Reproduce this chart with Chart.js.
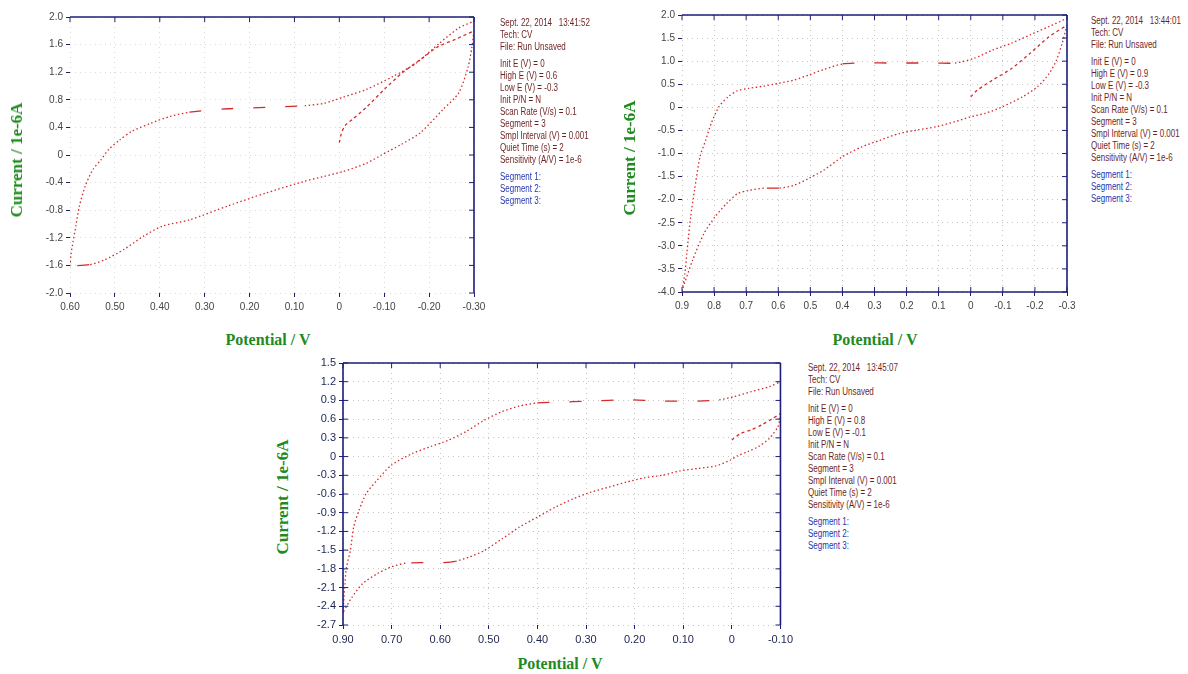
<!DOCTYPE html>
<html>
<head>
<meta charset="utf-8">
<title>CV scans</title>
<script src="https://cdn.jsdelivr.net/npm/chart.js@4.4.1/dist/chart.umd.min.js"></script>
<style>
  body { margin: 0; background: #fff; }
  #page { position: relative; width: 1188px; height: 674px; overflow: hidden; }
  #page canvas { position: absolute; }
  .ytitle, .xtitle { position: absolute; font-family: 'Liberation Serif', 'Times New Roman', serif; font-weight: bold; color: #1f8a1f; white-space: nowrap; }
  .ytitle { font-size: 17px; transform: translate(-50%, -50%) rotate(-90deg); }
  .xtitle { font-size: 16px; transform: translate(-50%, -50%); }
  .info { position: absolute; font: 10px 'Liberation Sans', Arial, sans-serif; color: #6e1f1f; line-height: 12px; white-space: pre; transform: scaleX(0.8); transform-origin: left top; }
  .info .gap { height: 5px; }
  .info .seg { color: #2536b0; }
</style>
</head>
<body>
<div id="page">
  <canvas id="cv1" width="465" height="314" style="left:25px;top:7px"></canvas>
  <canvas id="cv2" width="446" height="315" style="left:637px;top:5px"></canvas>
  <canvas id="cv3" width="499" height="300" style="left:298px;top:353px"></canvas>

  <div class="ytitle" style="left:17px;top:160px">Current / 1e-6A</div>
  <div class="ytitle" style="left:630px;top:158px">Current / 1e-6A</div>
  <div class="ytitle" style="left:283px;top:497px">Current / 1e-6A</div>
  <div class="xtitle" style="left:268px;top:340px">Potential / V</div>
  <div class="xtitle" style="left:875px;top:340px">Potential / V</div>
  <div class="xtitle" style="left:560px;top:664px">Potential / V</div>

  <div class="info" id="info1" style="left:500px;top:17px"></div>
  <div class="info" id="info2" style="left:1091px;top:15px"></div>
  <div class="info" id="info3" style="left:808px;top:362px"></div>
</div>

<script>
// ---- scan 1 (13:41:52) ----
const x1Ticks = [0.6, 0.5, 0.4, 0.3, 0.2, 0.1, 0, -0.1, -0.2, -0.3];
const x1Labels = ['0.60', '0.50', '0.40', '0.30', '0.20', '0.10', '0', '-0.10', '-0.20', '-0.30'];
const y1Ticks = [2.0, 1.6, 1.2, 0.8, 0.4, 0, -0.4, -0.8, -1.2, -1.6, -2.0];
const y1Labels = ['2.0', '1.6', '1.2', '0.8', '0.4', '0', '-0.4', '-0.8', '-1.2', '-1.6', '-2.0'];
const s1aX = [0, -0.004, -0.012, -0.03, -0.06, -0.10, -0.14, -0.18, -0.22, -0.26, -0.30];
const s1aY = [0.18, 0.30, 0.42, 0.52, 0.69, 0.95, 1.19, 1.38, 1.57, 1.68, 1.80];
const s1bX = [-0.30, -0.295, -0.287, -0.266, -0.231, -0.18, -0.137, -0.094, -0.06, -0.008, 0.034, 0.077, 0.163, 0.249, 0.334, 0.394, 0.437, 0.48, 0.523, 0.557, 0.60];
const s1bY = [1.80, 1.55, 1.28, 0.90, 0.66, 0.32, 0.15, 0.0, -0.12, -0.24, -0.31, -0.38, -0.55, -0.74, -0.94, -1.03, -1.18, -1.37, -1.52, -1.59, -1.61];
const s1cX = [0.60, 0.598, 0.593, 0.587, 0.579, 0.566, 0.549, 0.531, 0.514, 0.489, 0.463, 0.42, 0.377, 0.334, 0.249, 0.163, 0.077, 0.034, -0.008, -0.06, -0.12, -0.171, -0.223, -0.266, -0.30];
const s1cY = [-1.61, -1.45, -1.25, -1.03, -0.74, -0.45, -0.21, -0.07, 0.08, 0.22, 0.34, 0.46, 0.56, 0.62, 0.67, 0.69, 0.715, 0.75, 0.836, 0.95, 1.14, 1.33, 1.62, 1.84, 1.94];

// ---- scan 2 (13:44:01) ----
const x2Ticks = [0.9, 0.8, 0.7, 0.6, 0.5, 0.4, 0.3, 0.2, 0.1, 0, -0.1, -0.2, -0.3];
const x2Labels = ['0.9', '0.8', '0.7', '0.6', '0.5', '0.4', '0.3', '0.2', '0.1', '0', '-0.1', '-0.2', '-0.3'];
const y2Ticks = [2.0, 1.5, 1.0, 0.5, 0, -0.5, -1.0, -1.5, -2.0, -2.5, -3.0, -3.5, -4.0];
const y2Labels = ['2.0', '1.5', '1.0', '0.5', '0', '-0.5', '-1.0', '-1.5', '-2.0', '-2.5', '-3.0', '-3.5', '-4.0'];
const s2aX = [0, -0.02, -0.068, -0.127, -0.185, -0.244, -0.30];
const s2aY = [0.23, 0.37, 0.59, 0.84, 1.17, 1.53, 1.78];
const s2bX = [-0.30, -0.285, -0.267, -0.244, -0.209, -0.162, -0.098, -0.045, 0.0, 0.049, 0.107, 0.166, 0.224, 0.282, 0.341, 0.40, 0.458, 0.505, 0.551, 0.598, 0.645, 0.692, 0.727, 0.762, 0.797, 0.832, 0.867, 0.90];
const s2bY = [1.78, 1.39, 1.02, 0.73, 0.45, 0.23, 0.01, -0.13, -0.205, -0.31, -0.42, -0.49, -0.57, -0.71, -0.86, -1.07, -1.36, -1.54, -1.69, -1.75, -1.75, -1.80, -1.87, -2.09, -2.37, -2.74, -3.31, -3.97];
const s2cX = [0.90, 0.891, 0.885, 0.873, 0.861, 0.844, 0.826, 0.809, 0.785, 0.756, 0.727, 0.692, 0.645, 0.598, 0.551, 0.505, 0.458, 0.40, 0.341, 0.224, 0.107, 0.049, -0.01, -0.068, -0.127, -0.185, -0.244, -0.30];
const s2cY = [-3.97, -3.6, -3.17, -2.37, -1.80, -1.07, -0.71, -0.35, 0.01, 0.23, 0.36, 0.41, 0.46, 0.52, 0.59, 0.70, 0.82, 0.94, 0.96, 0.96, 0.96, 0.96, 1.06, 1.24, 1.39, 1.57, 1.75, 1.93];

// ---- scan 3 (13:45:07) ----
const x3Ticks = [0.8, 0.7, 0.6, 0.5, 0.4, 0.3, 0.2, 0.1, 0, -0.1];
const x3Labels = ['0.90', '0.70', '0.60', '0.50', '0.40', '0.30', '0.20', '0.10', '0', '-0.10'];
const y3Ticks = [1.5, 1.2, 0.9, 0.6, 0.3, 0, -0.3, -0.6, -0.9, -1.2, -1.5, -1.8, -2.1, -2.4, -2.7];
const y3Labels = ['1.5', '1.2', '0.9', '0.6', '0.3', '0', '-0.3', '-0.6', '-0.9', '-1.2', '-1.5', '-1.8', '-2.1', '-2.4', '-2.7'];
const s3aX = [0, -0.018, -0.04, -0.062, -0.084, -0.10];
const s3aY = [0.265, 0.37, 0.43, 0.51, 0.61, 0.69];
const s3bX = [-0.10, -0.098, -0.095, -0.077, -0.055, -0.033, -0.011, 0.004, 0.033, 0.07, 0.107, 0.143, 0.18, 0.217, 0.253, 0.29, 0.327, 0.363, 0.40, 0.437, 0.473, 0.51, 0.54, 0.569, 0.598, 0.635, 0.672, 0.701, 0.73, 0.76, 0.782, 0.80];
const s3bY = [0.69, 0.58, 0.48, 0.29, 0.16, 0.08, 0.01, -0.06, -0.15, -0.19, -0.23, -0.30, -0.34, -0.41, -0.49, -0.57, -0.68, -0.81, -0.97, -1.13, -1.32, -1.51, -1.61, -1.68, -1.70, -1.70, -1.71, -1.77, -1.88, -2.04, -2.26, -2.50];
const s3cX = [0.80, 0.798, 0.796, 0.793, 0.785, 0.778, 0.767, 0.752, 0.73, 0.701, 0.657, 0.62, 0.584, 0.547, 0.51, 0.473, 0.437, 0.40, 0.363, 0.29, 0.217, 0.143, 0.07, 0.026, -0.004, -0.04, -0.077, -0.10];
const s3cY = [-2.50, -2.25, -2.04, -1.78, -1.51, -1.13, -0.86, -0.59, -0.38, -0.14, 0.05, 0.16, 0.26, 0.40, 0.58, 0.72, 0.81, 0.86, 0.87, 0.89, 0.91, 0.89, 0.89, 0.91, 0.96, 1.04, 1.12, 1.20];

// instrument header text
const info1 = ['Sept. 22, 2014   13:41:52', 'Tech: CV', 'File: Run Unsaved', '',
  'Init E (V) = 0', 'High E (V) = 0.6', 'Low E (V) = -0.3', 'Init P/N = N', 'Scan Rate (V/s) = 0.1',
  'Segment = 3', 'Smpl Interval (V) = 0.001', 'Quiet Time (s) = 2', 'Sensitivity (A/V) = 1e-6'];
const info2 = ['Sept. 22, 2014   13:44:01', 'Tech: CV', 'File: Run Unsaved', '',
  'Init E (V) = 0', 'High E (V) = 0.9', 'Low E (V) = -0.3', 'Init P/N = N', 'Scan Rate (V/s) = 0.1',
  'Segment = 3', 'Smpl Interval (V) = 0.001', 'Quiet Time (s) = 2', 'Sensitivity (A/V) = 1e-6'];
const info3 = ['Sept. 22, 2014   13:45:07', 'Tech: CV', 'File: Run Unsaved', '',
  'Init E (V) = 0', 'High E (V) = 0.8', 'Low E (V) = -0.1', 'Init P/N = N', 'Scan Rate (V/s) = 0.1',
  'Segment = 3', 'Smpl Interval (V) = 0.001', 'Quiet Time (s) = 2', 'Sensitivity (A/V) = 1e-6'];
const segNames = ['Segment 1:', 'Segment 2:', 'Segment 3:'];

function fillInfo(id, lines) {
  const box = document.getElementById(id);
  let html = '';
  lines.forEach(l => { html += l === '' ? '<div class="gap"></div>' : '<div>' + l + '</div>'; });
  html += '<div class="gap"></div>';
  segNames.forEach(s => { html += '<div class="seg">' + s + '</div>'; });
  box.innerHTML = html;
}
fillInfo('info1', info1);
fillInfo('info2', info2);
fillInfo('info3', info3);

const NAVY = '#1c1f7a';
const RED = '#d42a2a';
const TICK_FONT = "'Liberation Sans', Arial, sans-serif";

// solid frame on chosen sides of the plot + small inward ticks
const framePlugin = {
  id: 'frame',
  afterDatasetsDraw(chart, args, opts) {
    const { ctx, chartArea: a, scales } = chart;
    const sides = opts.sides || [];
    ctx.save();
    ctx.strokeStyle = NAVY;
    ctx.lineWidth = 1.6;
    ctx.beginPath();
    if (sides.includes('top')) { ctx.moveTo(a.left, a.top); ctx.lineTo(a.right, a.top); }
    if (sides.includes('bottom')) { ctx.moveTo(a.left, a.bottom); ctx.lineTo(a.right, a.bottom); }
    if (sides.includes('left')) { ctx.moveTo(a.left, a.top); ctx.lineTo(a.left, a.bottom); }
    if (sides.includes('right')) { ctx.moveTo(a.right, a.top); ctx.lineTo(a.right, a.bottom); }
    ctx.stroke();
    ctx.lineWidth = 1;
    ctx.beginPath();
    scales.x.ticks.forEach(t => {
      const px = scales.x.getPixelForValue(t.value);
      if (sides.includes('top')) { ctx.moveTo(px, a.top); ctx.lineTo(px, a.top + 5); }
      if (sides.includes('bottom')) { ctx.moveTo(px, a.bottom); ctx.lineTo(px, a.bottom - 5); }
    });
    scales.y.ticks.forEach(t => {
      const py = scales.y.getPixelForValue(t.value);
      if (sides.includes('right')) { ctx.moveTo(a.right, py); ctx.lineTo(a.right - 5, py); }
      if (sides.includes('left')) { ctx.moveTo(a.left, py); ctx.lineTo(a.left + 5, py); }
    });
    ctx.stroke();
    ctx.restore();
  }
};

function pts(xs, ys) { return xs.map((x, i) => ({ x, y: ys[i] })); }

// flat stretches of the trace show up as sparse long dashes in the print-out
function flatDash(ctx) {
  const dx = Math.abs(ctx.p1.x - ctx.p0.x);
  const dy = Math.abs(ctx.p1.y - ctx.p0.y);
  return (dx > 12 && dy < 0.12 * dx) ? [12, 20] : undefined;
}

function seg(data, i) {
  return {
    data,
    showLine: true,
    borderColor: RED,
    borderWidth: 1.3,
    borderDash: i === 0 ? [3, 3] : [1.5, 2.5],
    segment: i === 0 ? {} : { borderDash: flatDash },
    pointRadius: 0,
    tension: 0.25
  };
}

function labelFor(ticks, labels) {
  return v => {
    const i = ticks.findIndex(t => Math.abs(t - v) < 1e-6);
    return i < 0 ? '' : labels[i];
  };
}

function makeCV(id, c) {
  new Chart(document.getElementById(id), {
    type: 'scatter',
    data: { datasets: c.segments.map(seg) },
    options: {
      responsive: false,
      animation: false,
      layout: { padding: { top: 10, right: 16 } },
      plugins: { legend: { display: false }, tooltip: { enabled: false }, frame: { sides: c.sides } },
      scales: {
        x: {
          type: 'linear',
          reverse: true,
          min: Math.min(...c.xTicks),
          max: Math.max(...c.xTicks),
          afterBuildTicks: s => { s.ticks = c.xTicks.map(v => ({ value: v })); },
          afterFit: s => { s.height = 28; },
          grid: { color: c.gridColor, tickColor: NAVY, tickLength: 4 },
          border: { display: false, dash: [1, 4] },
          ticks: { autoSkip: false, maxRotation: 0, padding: 4, color: c.tickColor,
            font: { family: TICK_FONT, size: c.tickSize },
            callback: labelFor(c.xTicks, c.xLabels) }
        },
        y: {
          min: Math.min(...c.yTicks),
          max: Math.max(...c.yTicks),
          afterBuildTicks: s => { s.ticks = c.yTicks.map(v => ({ value: v })); },
          afterFit: s => { s.width = 45; },
          grid: { color: c.gridColor, tickColor: NAVY, tickLength: 4 },
          border: { display: false, dash: [1, 4] },
          ticks: { autoSkip: false, padding: 3, color: c.tickColor,
            font: { family: TICK_FONT, size: c.tickSize },
            callback: labelFor(c.yTicks, c.yLabels) }
        }
      }
    },
    plugins: [framePlugin]
  });
}

makeCV('cv1', {
  xTicks: x1Ticks, xLabels: x1Labels, yTicks: y1Ticks, yLabels: y1Labels,
  segments: [pts(s1aX, s1aY), pts(s1bX, s1bY), pts(s1cX, s1cY)],
  sides: ['top', 'right'], gridColor: 'rgba(120,120,120,0.28)',
  tickColor: '#444', tickSize: 10
});
makeCV('cv2', {
  xTicks: x2Ticks, xLabels: x2Labels, yTicks: y2Ticks, yLabels: y2Labels,
  segments: [pts(s2aX, s2aY), pts(s2bX, s2bY), pts(s2cX, s2cY)],
  sides: ['top', 'right', 'bottom'], gridColor: 'rgba(120,120,120,0.42)',
  tickColor: '#444', tickSize: 10
});
makeCV('cv3', {
  xTicks: x3Ticks, xLabels: x3Labels, yTicks: y3Ticks, yLabels: y3Labels,
  segments: [pts(s3aX, s3aY), pts(s3bX, s3bY), pts(s3cX, s3cY)],
  sides: ['top', 'left', 'right'], gridColor: 'rgba(120,120,120,0.42)',
  tickColor: '#1c2450', tickSize: 11
});
</script>
</body>
</html>
